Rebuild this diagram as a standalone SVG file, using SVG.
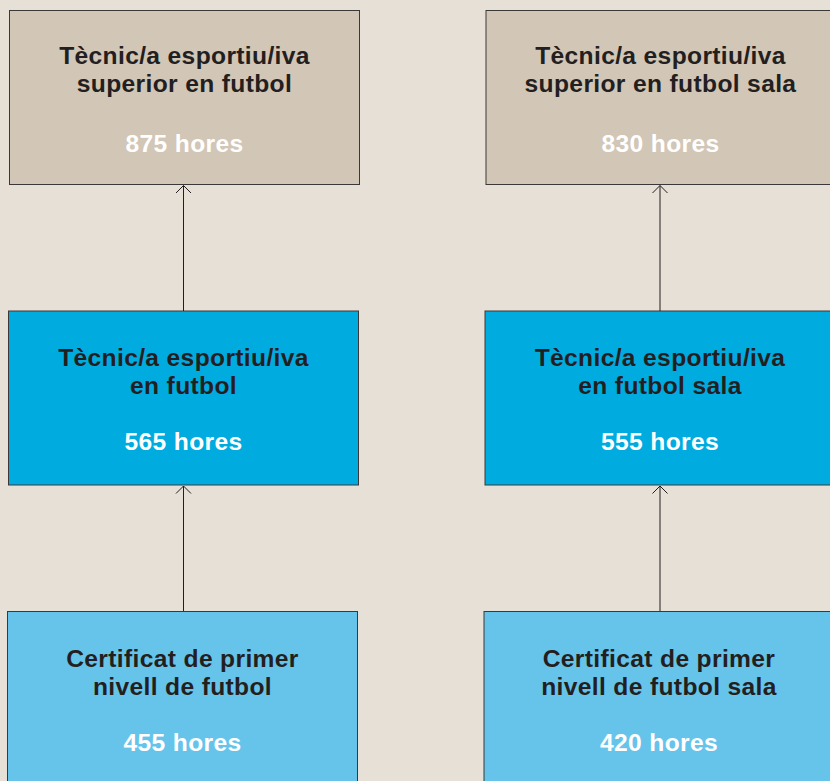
<svg xmlns="http://www.w3.org/2000/svg" width="830" height="781" viewBox="0 0 830 781">
<defs>
<style>
.box{stroke:#3a3838;stroke-width:1}
.top{fill:#d2c6b6}
.mid{fill:#00abe0}
.bot{fill:#66c4eb}
.t{font-family:"Liberation Sans",Arial,Helvetica,sans-serif;font-weight:bold;font-size:24.6px;letter-spacing:0.35px;text-anchor:middle;fill:#231f20}
.h{fill:#ffffff}
.conn line{stroke:#231f20;stroke-width:1;fill:none}
.conn path{stroke:#231f20;stroke-width:1;fill:none}
</style>
</defs>
<rect x="0" y="0" width="830" height="781" fill="#e7e0d6"/>
<g id="n1">
<rect class="box top" x="9.5" y="10.5" width="350" height="174"/>
<text class="t" x="184.5" y="64">Tècnic/a esportiu/iva</text>
<text class="t" x="184.5" y="92">superior en futbol</text>
<text class="t h" x="184.5" y="152">875 hores</text>
</g>
<g id="n2">
<rect class="box top" x="486" y="10.5" width="350" height="174"/>
<text class="t" x="660.5" y="64">Tècnic/a esportiu/iva</text>
<text class="t" x="660.5" y="92">superior en futbol sala</text>
<text class="t h" x="660.5" y="152">830 hores</text>
</g>
<g id="n3">
<rect class="box mid" x="8.5" y="311" width="350" height="174"/>
<text class="t" x="183.5" y="366">Tècnic/a esportiu/iva</text>
<text class="t" x="183.5" y="394">en futbol</text>
<text class="t h" x="183.5" y="450">565 hores</text>
</g>
<g id="n4">
<rect class="box mid" x="485" y="311" width="350" height="174"/>
<text class="t" x="660" y="366">Tècnic/a esportiu/iva</text>
<text class="t" x="660" y="394">en futbol sala</text>
<text class="t h" x="660" y="450">555 hores</text>
</g>
<g id="n5">
<rect class="box bot" x="7.5" y="611.5" width="350" height="180"/>
<text class="t" x="182.5" y="667">Certificat de primer</text>
<text class="t" x="182.5" y="695">nivell de futbol</text>
<text class="t h" x="182.5" y="751">455 hores</text>
</g>
<g id="n6">
<rect class="box bot" x="484" y="611.5" width="360" height="180"/>
<text class="t" x="659" y="667">Certificat de primer</text>
<text class="t" x="659" y="695">nivell de futbol sala</text>
<text class="t h" x="659" y="751">420 hores</text>
</g>
<g class="conn" id="connectors">
<line x1="183.5" y1="311" x2="183.5" y2="185.5"/>
<path d="M176,193 L183.5,185.5 L191,193"/>
<line x1="660" y1="311" x2="660" y2="185.5"/>
<path d="M652.5,193 L660,185.5 L667.5,193"/>
<line x1="183.5" y1="611" x2="183.5" y2="486"/>
<path d="M176,493.5 L183.5,486 L191,493.5"/>
<line x1="660" y1="611" x2="660" y2="486"/>
<path d="M652.5,493.5 L660,486 L667.5,493.5"/>
</g>
</svg>
